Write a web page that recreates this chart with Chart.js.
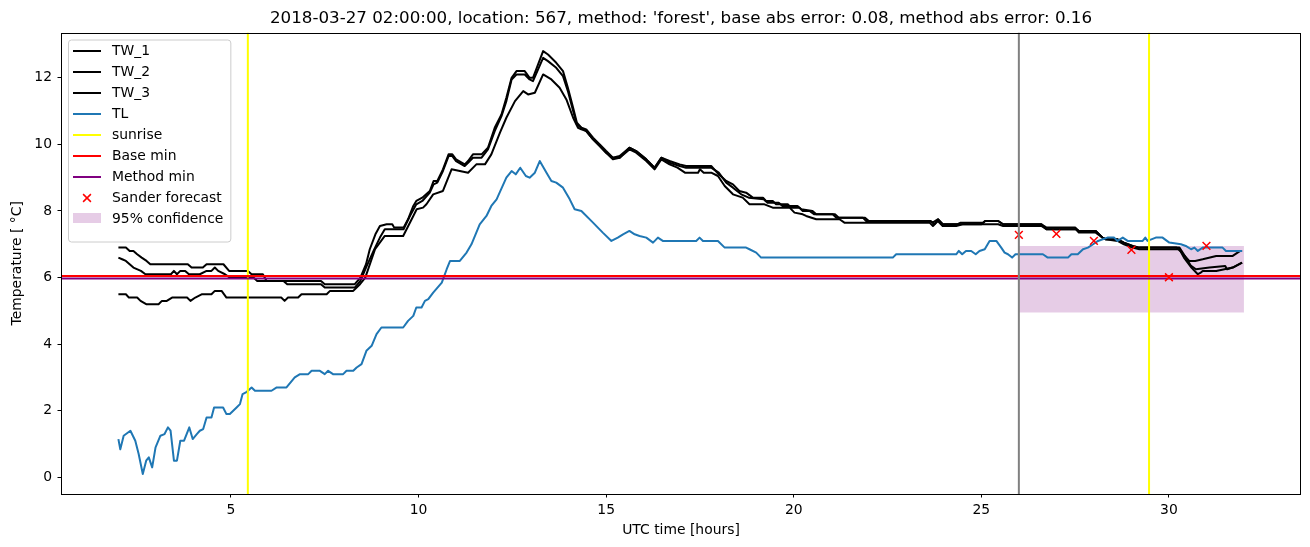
<!DOCTYPE html>
<html>
<head>
<meta charset="utf-8">
<script src="https://cdn.jsdelivr.net/npm/chart.js@4.4.1/dist/chart.umd.min.js"></script>
<style>
  html, body { margin: 0; padding: 0; background: #fff; }
  canvas { display: block; }
</style>
</head>
<body>
<canvas id="chart" width="1310" height="547"></canvas>
<script>
const titleText = "2018-03-27 02:00:00, location: 567, method: 'forest', base abs error: 0.08, method abs error: 0.16";
const xTicks = [5, 10, 15, 20, 25, 30];
const yTicks = [0, 2, 4, 6, 8, 10, 12];
const xLimits = [0.47, 33.52];
const yLimits = [-0.5, 13.36];

const tw1Hours = [2.0, 2.2, 2.3, 2.4, 2.5, 2.62, 2.75, 2.85, 3.85, 3.95, 4.25, 4.35, 4.8, 4.95, 5.45, 5.55, 5.85, 5.95, 7.4, 7.5, 8.3, 8.45, 8.6, 8.7, 8.85, 8.97, 9.15, 9.3, 9.35, 9.6, 9.72, 9.86, 9.94, 10.1, 10.3, 10.4, 10.5, 10.65, 10.8, 10.9, 11.0, 11.23, 11.32, 11.45, 11.68, 11.85, 12.03, 12.21, 12.34, 12.48, 12.61, 12.83, 12.96, 13.05, 13.32, 13.45, 13.67, 13.85, 13.98, 14.12, 14.22, 14.34, 14.47, 14.65, 14.83, 15.0, 15.18, 15.36, 15.62, 15.8, 16.07, 16.29, 16.47, 16.69, 16.96, 17.13, 17.8, 18.0, 18.2, 18.38, 18.55, 18.73, 18.91, 19.18, 19.26, 19.44, 19.53, 19.84, 19.93, 20.15, 20.24, 20.42, 20.55, 21.04, 21.13, 21.84, 21.93, 23.65, 23.75, 23.85, 23.97, 24.35, 24.45, 25.05, 25.1, 25.45, 25.58, 26.6, 26.74, 27.5, 27.6, 28.05, 28.23, 28.32, 28.63, 28.8, 29.03, 29.21, 30.2, 30.3, 30.54, 30.7, 30.9, 31.26, 31.7, 31.9, 31.95];
const tw1Temps = [6.9, 6.9, 6.8, 6.8, 6.7, 6.6, 6.5, 6.4, 6.4, 6.3, 6.3, 6.4, 6.4, 6.2, 6.2, 6.1, 6.1, 5.9, 5.9, 5.8, 5.8, 6.0, 6.4, 6.85, 7.3, 7.55, 7.6, 7.6, 7.5, 7.5, 7.75, 8.15, 8.3, 8.4, 8.6, 8.9, 8.9, 9.25, 9.7, 9.7, 9.55, 9.4, 9.5, 9.7, 9.7, 9.9, 10.5, 10.9, 11.4, 12.0, 12.2, 12.2, 12.0, 12.0, 12.8, 12.7, 12.45, 12.2, 11.7, 11.1, 10.65, 10.5, 10.45, 10.2, 10.0, 9.8, 9.6, 9.65, 9.9, 9.8, 9.55, 9.3, 9.6, 9.5, 9.4, 9.35, 9.35, 9.1, 8.9, 8.8, 8.6, 8.55, 8.4, 8.4, 8.3, 8.3, 8.2, 8.2, 8.1, 8.1, 8.0, 8.0, 7.9, 7.9, 7.8, 7.8, 7.7, 7.7, 7.6, 7.75, 7.6, 7.6, 7.65, 7.65, 7.7, 7.7, 7.6, 7.6, 7.5, 7.5, 7.4, 7.4, 7.2, 7.15, 7.15, 7.05, 6.95, 6.9, 6.9, 6.8, 6.5, 6.5, 6.55, 6.65, 6.65, 6.8, 6.8];

const tw2Hours = [2.0, 2.1, 2.2, 2.4, 2.6, 2.72, 3.4, 3.48, 3.56, 3.65, 3.78, 3.88, 4.17, 4.35, 4.48, 4.57, 4.66, 4.84, 4.97, 5.6, 5.7, 6.4, 6.5, 7.4, 7.5, 8.3, 8.45, 8.6, 8.8, 8.97, 9.1, 9.6, 9.77, 9.94, 10.1, 10.3, 10.4, 10.5, 10.65, 10.8, 10.9, 11.0, 11.23, 11.32, 11.45, 11.68, 11.85, 12.03, 12.21, 12.34, 12.48, 12.61, 12.83, 12.96, 13.05, 13.32, 13.45, 13.67, 13.85, 13.98, 14.12, 14.22, 14.34, 14.47, 14.65, 14.83, 15.0, 15.18, 15.36, 15.62, 15.8, 16.07, 16.29, 16.47, 16.69, 16.96, 17.13, 17.8, 18.0, 18.2, 18.38, 18.6, 18.8, 19.2, 19.3, 19.6, 19.7, 20.1, 20.2, 20.5, 20.6, 21.1, 21.2, 21.9, 22.0, 23.62, 23.7, 23.84, 23.97, 24.4, 25.0, 25.1, 25.45, 25.58, 26.6, 26.74, 27.52, 27.6, 28.05, 28.23, 28.32, 28.63, 28.8, 29.03, 29.21, 30.28, 30.45, 30.59, 30.72, 31.08, 31.5, 31.55, 31.7, 31.95];
const tw2Temps = [6.6, 6.55, 6.5, 6.3, 6.2, 6.1, 6.1, 6.2, 6.1, 6.2, 6.2, 6.1, 6.1, 6.2, 6.2, 6.3, 6.2, 6.1, 6.0, 6.0, 5.9, 5.9, 5.8, 5.8, 5.7, 5.7, 5.9, 6.3, 6.8, 7.2, 7.45, 7.45, 7.85, 8.2, 8.3, 8.55, 8.8, 8.85, 9.2, 9.65, 9.65, 9.5, 9.35, 9.45, 9.6, 9.6, 9.85, 10.4, 10.85, 11.3, 11.95, 12.1, 12.1, 11.95, 11.9, 12.6, 12.5, 12.3, 12.05, 11.6, 11.0, 10.6, 10.5, 10.4, 10.15, 9.95, 9.75, 9.6, 9.6, 9.9, 9.8, 9.55, 9.3, 9.6, 9.45, 9.35, 9.3, 9.3, 9.15, 8.85, 8.7, 8.5, 8.4, 8.35, 8.25, 8.25, 8.15, 8.15, 8.05, 8.0, 7.9, 7.9, 7.8, 7.8, 7.7, 7.7, 7.65, 7.75, 7.6, 7.6, 7.6, 7.7, 7.7, 7.6, 7.6, 7.45, 7.45, 7.4, 7.4, 7.2, 7.15, 7.15, 7.05, 6.95, 6.9, 6.9, 6.6, 6.35, 6.25, 6.3, 6.35, 6.25, 6.3, 6.45];

const tw3Hours = [2.0, 2.2, 2.28, 2.5, 2.59, 2.74, 3.07, 3.16, 3.29, 3.43, 3.83, 3.92, 4.05, 4.23, 4.48, 4.57, 4.75, 4.88, 6.34, 6.43, 6.52, 6.79, 6.88, 7.55, 7.64, 8.26, 8.44, 8.58, 8.84, 9.1, 9.59, 9.86, 9.95, 10.12, 10.21, 10.39, 10.65, 10.88, 11.1, 11.32, 11.54, 11.77, 11.94, 12.17, 12.34, 12.57, 12.79, 12.92, 13.1, 13.32, 13.54, 13.76, 13.94, 14.12, 14.25, 14.34, 14.47, 14.65, 14.83, 15.0, 15.18, 15.36, 15.62, 15.8, 16.07, 16.29, 16.47, 16.69, 16.9, 17.1, 17.45, 17.5, 17.6, 17.8, 17.98, 18.16, 18.38, 18.64, 18.82, 19.22, 19.44, 19.89, 20.02, 20.24, 20.33, 20.6, 21.22, 21.35, 23.62, 23.71, 23.84, 23.97, 24.33, 24.5, 25.45, 25.58, 26.6, 26.74, 27.52, 27.6, 28.05, 28.23, 28.32, 28.63, 28.8, 29.03, 29.21, 30.28, 30.4, 30.6, 30.77, 30.85, 30.9, 31.26, 31.7, 31.95];
const tw3Temps = [5.5, 5.5, 5.4, 5.4, 5.3, 5.2, 5.2, 5.3, 5.3, 5.4, 5.4, 5.3, 5.4, 5.5, 5.5, 5.6, 5.6, 5.4, 5.4, 5.3, 5.4, 5.4, 5.5, 5.5, 5.6, 5.6, 5.8, 6.0, 6.85, 7.25, 7.25, 7.85, 8.05, 8.1, 8.2, 8.5, 8.6, 9.25, 9.2, 9.15, 9.4, 9.4, 9.7, 10.35, 10.8, 11.3, 11.6, 11.5, 11.55, 12.1, 11.95, 11.7, 11.35, 10.8, 10.5, 10.45, 10.4, 10.15, 9.95, 9.75, 9.55, 9.6, 9.85, 9.75, 9.5, 9.25, 9.55, 9.4, 9.3, 9.15, 9.15, 9.25, 9.15, 9.15, 9.05, 8.75, 8.5, 8.4, 8.2, 8.2, 8.1, 8.1, 7.95, 7.9, 7.85, 7.75, 7.75, 7.65, 7.65, 7.55, 7.7, 7.55, 7.55, 7.6, 7.6, 7.55, 7.55, 7.45, 7.45, 7.35, 7.35, 7.2, 7.15, 7.1, 7.0, 6.9, 6.85, 6.85, 6.6, 6.3, 6.1, 6.15, 6.2, 6.2, 6.3, 6.45];

const tlHours = [2.0, 2.05, 2.14, 2.32, 2.45, 2.54, 2.65, 2.74, 2.81, 2.9, 2.99, 3.12, 3.23, 3.32, 3.39, 3.48, 3.56, 3.65, 3.75, 3.89, 3.98, 4.09, 4.17, 4.26, 4.35, 4.48, 4.55, 4.79, 4.88, 4.97, 5.15, 5.24, 5.31, 5.4, 5.55, 5.64, 6.08, 6.22, 6.48, 6.7, 6.84, 7.06, 7.15, 7.37, 7.5, 7.59, 7.72, 7.99, 8.08, 8.26, 8.35, 8.48, 8.61, 8.75, 8.88, 9.01, 9.59, 9.72, 9.86, 9.94, 10.08, 10.17, 10.26, 10.39, 10.62, 10.75, 10.84, 11.1, 11.28, 11.41, 11.63, 11.81, 11.94, 12.08, 12.34, 12.48, 12.59, 12.71, 12.86, 12.96, 13.1, 13.23, 13.41, 13.54, 13.67, 13.85, 14.03, 14.16, 14.34, 14.65, 14.91, 15.14, 15.31, 15.45, 15.62, 15.76, 15.89, 16.07, 16.25, 16.38, 16.51, 17.4, 17.49, 17.58, 17.98, 18.16, 18.73, 18.82, 19.0, 19.13, 22.64, 22.73, 24.33, 24.4, 24.49, 24.59, 24.73, 24.85, 24.95, 25.09, 25.22, 25.4, 25.53, 25.62, 25.71, 25.82, 25.91, 26.64, 26.77, 27.31, 27.4, 27.57, 27.71, 27.84, 27.98, 28.11, 28.36, 28.54, 28.63, 28.77, 28.9, 29.3, 29.37, 29.43, 29.65, 29.83, 30.01, 30.32, 30.45, 30.59, 30.68, 30.77, 30.9, 31.43, 31.52, 31.95];
const tlTemps = [1.15, 0.84, 1.25, 1.4, 1.1, 0.7, 0.1, 0.5, 0.6, 0.3, 0.9, 1.25, 1.3, 1.5, 1.4, 0.5, 0.5, 1.1, 1.1, 1.5, 1.15, 1.3, 1.4, 1.45, 1.8, 1.8, 2.1, 2.1, 1.9, 1.9, 2.1, 2.2, 2.5, 2.55, 2.7, 2.6, 2.6, 2.7, 2.7, 3.0, 3.1, 3.1, 3.2, 3.2, 3.1, 3.2, 3.1, 3.1, 3.2, 3.2, 3.3, 3.4, 3.8, 3.95, 4.3, 4.5, 4.5, 4.7, 4.85, 5.1, 5.1, 5.3, 5.35, 5.55, 5.85, 6.25, 6.5, 6.5, 6.75, 7.0, 7.6, 7.85, 8.15, 8.35, 9.0, 9.2, 9.1, 9.3, 9.05, 9.0, 9.15, 9.5, 9.15, 8.9, 8.85, 8.7, 8.35, 8.05, 8.0, 7.65, 7.35, 7.1, 7.2, 7.3, 7.4, 7.3, 7.25, 7.2, 7.05, 7.2, 7.1, 7.1, 7.2, 7.1, 7.1, 6.9, 6.9, 6.85, 6.75, 6.6, 6.6, 6.7, 6.7, 6.8, 6.7, 6.8, 6.8, 6.7, 6.8, 6.85, 7.1, 7.1, 6.9, 6.75, 6.7, 6.6, 6.7, 6.7, 6.6, 6.6, 6.7, 6.7, 6.85, 6.9, 7.0, 7.1, 7.2, 7.2, 7.1, 7.2, 7.1, 7.1, 7.2, 7.1, 7.2, 7.2, 7.05, 7.0, 6.95, 6.85, 6.9, 6.8, 6.9, 6.9, 6.8, 6.8];

const sunriseHours = [5.45, 29.47];
const nowHour = 26;
const baseMin = 6.05;
const methodMin = 5.97;
const sanderHours = [26, 27, 28, 29, 30, 31];
const sanderTemps = [7.28, 7.31, 7.1, 6.83, 6.01, 6.95];
const confHours = [26, 32];
const confLow = [4.95, 4.95];
const confHigh = [6.95, 6.95];

function pts(xs, ys) {
  return xs.map(function (x, i) { return { x: x, y: ys[i] }; });
}

// vertical lines spanning the whole y axis, broken between them
function vlines(hours) {
  var p = [];
  hours.forEach(function (h, i) {
    if (i > 0) p.push({ x: h, y: null });
    p.push({ x: h, y: yLimits[0] }, { x: h, y: yLimits[1] });
  });
  return p;
}

function hline(v) {
  return [{ x: xLimits[0], y: v }, { x: xLimits[1], y: v }];
}

function lineSet(label, data, color, order) {
  return {
    label: label,
    data: data,
    showLine: true,
    borderColor: color,
    backgroundColor: color,
    borderWidth: 2,
    pointRadius: 0,
    tension: 0,
    borderJoinStyle: 'round',
    fill: false,
    order: order,
    legendKind: 'line'
  };
}

const confColor = 'rgba(128, 0, 128, 0.2)';

const datasets = [
  lineSet('TW_1', pts(tw1Hours, tw1Temps), '#000000', 9),
  lineSet('TW_2', pts(tw2Hours, tw2Temps), '#000000', 8),
  lineSet('TW_3', pts(tw3Hours, tw3Temps), '#000000', 7),
  lineSet('TL', pts(tlHours, tlTemps), '#1f77b4', 6),
  lineSet('sunrise', vlines(sunriseHours), '#ffff00', 5),
  lineSet('Base min', hline(baseMin), '#ff0000', 3),
  lineSet('Method min', hline(methodMin), '#800080', 4),
  {
    label: 'Sander forecast',
    data: pts(sanderHours, sanderTemps),
    showLine: false,
    pointStyle: 'crossRot',
    pointRadius: 5.5,
    pointBorderWidth: 1.5,
    borderColor: '#ff0000',
    backgroundColor: '#ff0000',
    order: 2,
    legendKind: 'marker'
  },
  {
    label: '95% confidence',
    data: pts(confHours, confHigh),
    showLine: true,
    borderWidth: 0,
    borderColor: 'rgba(0,0,0,0)',
    backgroundColor: confColor,
    pointRadius: 0,
    fill: 9,
    order: 11,
    legendKind: 'patch'
  },
  {
    label: '',
    data: pts(confHours, confLow),
    showLine: true,
    borderWidth: 0,
    borderColor: 'rgba(0,0,0,0)',
    pointRadius: 0,
    fill: false,
    order: 12
  },
  Object.assign(lineSet('', vlines([nowHour]), '#808080', 1), { legendKind: null })
];

const fontFamily = "'DejaVu Sans', sans-serif";

const decorPlugin = {
  id: 'decor',
  afterDatasetsDraw(chart) {
    const ctx = chart.ctx;
    const a = chart.chartArea;
    ctx.save();
    ctx.strokeStyle = '#000';
    ctx.lineWidth = 1;
    ctx.strokeRect(Math.round(a.left) + 0.5, Math.round(a.top) + 0.5,
      Math.round(a.right - a.left) - 1, Math.round(a.bottom - a.top) - 1);
    ctx.restore();
  },
  afterDraw(chart) {
    const ctx = chart.ctx;
    const a = chart.chartArea;
    ctx.save();
    // title
    ctx.fillStyle = '#000';
    ctx.font = '16.7px ' + fontFamily;
    ctx.textAlign = 'center';
    ctx.textBaseline = 'middle';
    ctx.fillText(titleText, (a.left + a.right) / 2, 19);

    // legend
    const items = chart.data.datasets.filter(function (d) { return d.legendKind; });
    ctx.font = '13.9px ' + fontFamily;
    var maxW = 0;
    items.forEach(function (d) { maxW = Math.max(maxW, ctx.measureText(d.label).width); });
    const bx = a.left + 7, by = a.top + 7;
    const textX = bx + 44;
    const bw = textX - bx + maxW + 7;
    const rowH = 21;
    const bh = 11 + rowH * items.length + 2;
    ctx.beginPath();
    ctx.roundRect(bx + 0.5, by + 0.5, bw, bh, 3);
    ctx.fillStyle = 'rgba(255,255,255,0.8)';
    ctx.fill();
    ctx.strokeStyle = '#cccccc';
    ctx.lineWidth = 1;
    ctx.stroke();
    items.forEach(function (d, i) {
      const cy = by + 11.5 + i * rowH;
      const x0 = bx + 5, x1 = bx + 33;
      if (d.legendKind === 'line') {
        ctx.strokeStyle = d.borderColor;
        ctx.lineWidth = d.borderWidth;
        ctx.beginPath();
        ctx.moveTo(x0, cy);
        ctx.lineTo(x1, cy);
        ctx.stroke();
      } else if (d.legendKind === 'marker') {
        const r = 3.9, mx = (x0 + x1) / 2;
        ctx.strokeStyle = d.borderColor;
        ctx.lineWidth = d.pointBorderWidth;
        ctx.beginPath();
        ctx.moveTo(mx - r, cy - r); ctx.lineTo(mx + r, cy + r);
        ctx.moveTo(mx - r, cy + r); ctx.lineTo(mx + r, cy - r);
        ctx.stroke();
      } else if (d.legendKind === 'patch') {
        ctx.fillStyle = d.backgroundColor;
        ctx.fillRect(x0, cy - 6, x1 - x0, 10);
      }
      ctx.fillStyle = '#000';
      ctx.textAlign = 'left';
      ctx.textBaseline = 'middle';
      ctx.fillText(d.label, textX, cy);
    });
    ctx.restore();
  }
};

new Chart(document.getElementById('chart'), {
  type: 'scatter',
  data: { datasets: datasets },
  options: {
    responsive: false,
    animation: false,
    events: [],
    layout: { padding: { top: 32.5, right: 9, left: 0, bottom: 0 } },
    plugins: {
      legend: { display: false },
      tooltip: { enabled: false },
      title: { display: false }
    },
    scales: {
      x: {
        type: 'linear',
        min: xLimits[0],
        max: xLimits[1],
        afterBuildTicks: function (s) { s.ticks = xTicks.map(function (v) { return { value: v }; }); },
        afterFit: function (s) { s.height = 53; },
        grid: { drawOnChartArea: false, drawTicks: true, tickLength: 3.5, color: '#000', lineWidth: 1 },
        border: { display: false },
        ticks: { color: '#000', font: { size: 13.9, family: fontFamily }, padding: 5, maxRotation: 0 },
        title: { display: true, text: 'UTC time [hours]', color: '#000', font: { size: 13.9, family: fontFamily }, padding: { top: 0, bottom: 8.7 } }
      },
      y: {
        type: 'linear',
        min: yLimits[0],
        max: yLimits[1],
        afterBuildTicks: function (s) { s.ticks = yTicks.map(function (v) { return { value: v }; }); },
        afterFit: function (s) { s.width = 61; },
        grid: { drawOnChartArea: false, drawTicks: true, tickLength: 3.5, color: '#000', lineWidth: 1 },
        border: { display: false },
        ticks: { color: '#000', font: { size: 13.9, family: fontFamily }, padding: 5.5 },
        title: { display: true, text: 'Temperature [ °C]', color: '#000', font: { size: 13.9, family: fontFamily }, padding: { top: 9.2, bottom: 0 } }
      }
    }
  },
  plugins: [decorPlugin]
});
</script>
</body>
</html>
